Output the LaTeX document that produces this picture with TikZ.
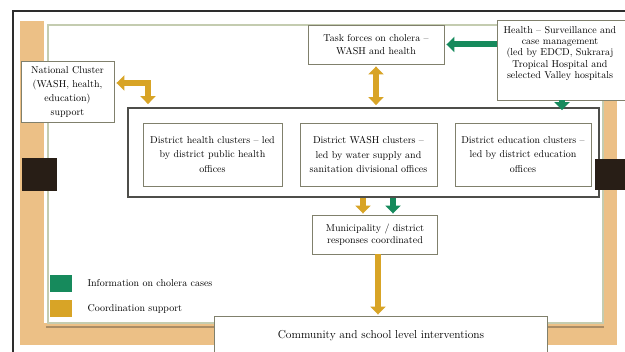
\documentclass[tikz,border=0pt]{standalone}
\usepackage{fontspec}
\usetikzlibrary{arrows.meta,calc}
\definecolor{boardtan}{RGB}{236,192,134}
\definecolor{infogreen}{RGB}{22,138,92}
\definecolor{coordgold}{RGB}{216,164,38}
\definecolor{boxedge}{RGB}{128,128,108}
\definecolor{paneledge}{RGB}{196,204,176}
\definecolor{contedge}{RGB}{78,78,74}
\definecolor{clipdark}{RGB}{40,30,22}
\definecolor{framedark}{RGB}{45,45,45}
\definecolor{shadowbrown}{RGB}{170,140,100}
\begin{document}
\begin{tikzpicture}[x=1pt,y=-1pt,
  box/.style={draw=boxedge, line width=0.9pt, fill=white, align=center, inner sep=0pt, font=\fontsize{10}{13}\selectfont},
  dbox/.style={box, minimum height=63pt, font=\fontsize{10}{14.5}\selectfont},
  legsq/.style={minimum width=22pt, minimum height=17pt, inner sep=0pt},
  legtxt/.style={anchor=west, font=\fontsize{10}{12}\selectfont},
  garrow/.style={draw=infogreen, line width=6pt, -{Triangle[width=15pt,length=8pt]}},
  oarrow/.style={draw=coordgold, line width=6pt, -{Triangle[width=15pt,length=8pt]}},
  oarrowtwo/.style={draw=coordgold, line width=6pt, line join=miter, {Triangle[width=15pt,length=8pt]}-{Triangle[width=15pt,length=8pt]}}
]
\useasboundingbox (0,0) rectangle (625,352);
\clip (0,0) rectangle (625,352);
% board background
\fill[white] (0,0) rectangle (625,352);
\fill[boardtan] (20,21) rectangle (44,345);
\fill[boardtan] (20,323) rectangle (617,345);
\fill[boardtan] (601,100) rectangle (617,345);
% frame lines
\draw[framedark, line width=1.2pt] (13,352) -- (13,11) -- (625,11);
% panel
\draw[paneledge, line width=1.6pt, fill=white] (48,25) rectangle (603,323);
\draw[shadowbrown, line width=2pt] (46,327) -- (604,327);

% nodes
\node[box, minimum width=93pt, minimum height=61pt, font=\fontsize{10}{14}\selectfont] (nat) at (67.5,91.5) {National Cluster\\(WASH, health,\\education)\\support};
\node[box, minimum width=136pt, minimum height=39pt] (task) at (376,44.5) {Task forces on cholera --\\WASH and health};
\node[box, minimum width=128pt, minimum height=80pt] (hea) at (561,60) {};
\node[align=center, inner sep=0pt, font=\fontsize{10}{11.3}\selectfont] (heatxt) at (560,53.5) {Health -- Surveillance and\\case management\\(led by EDCD, Sukraraj\\Tropical Hospital and\\selected Valley hospitals};
\node[draw=contedge, line width=1.8pt, minimum width=471pt, minimum height=89pt, inner sep=0pt] (cont) at (363.5,152.5) {};
\node[dbox, minimum width=139pt] (dh) at (212.5,154.5) {District health clusters -- led\\by district public health\\offices};
\node[dbox, minimum width=137pt] (dw) at (368.5,154.5) {District WASH clusters --\\led by water supply and\\sanitation divisional offices};
\node[dbox, minimum width=136pt] (de) at (523,154.5) {District education clusters --\\led by district education\\offices};
\node[box, minimum width=125pt, minimum height=39pt, font=\fontsize{10}{12}\selectfont] (mun) at (375,234.5) {Municipality / district\\responses coordinated};
\node[box, minimum width=333pt, minimum height=40pt, font=\fontsize{11.5}{13}\selectfont] (com) at (381,336) {Community and school level interventions};

% legend
\node[legsq, fill=infogreen] (lg) at (61,283.5) {};
\node[legsq, fill=coordgold] (lo) at (61,308.5) {};
\node[legtxt] (lgt) at (84,283) {Information on cholera cases};
\node[legtxt] (lot) at (84,309) {Coordination support};

% helper coordinates
\coordinate (elb) at (148,83);
\coordinate (gx) at (562,0);
\coordinate (ox) at (363,0);
\coordinate (gxb) at (393,0);
\coordinate (oxc) at (378,0);

% arrows
\draw[garrow] (hea.west |- task.east) -- ([xshift=2pt]task.east);
\draw[oarrowtwo] ([yshift=-2pt]task.south) -- ([yshift=2pt]task.south |- cont.north);
\coordinate (natp) at ([xshift=2pt]nat.east |- elb);
\coordinate (contp) at ([yshift=3pt]elb |- cont.north);
\draw[oarrowtwo] (natp) -| (contp);
\draw[garrow] (hea.south -| gx) -- ([yshift=-3pt]cont.north -| gx);
\draw[oarrow] (cont.south -| ox) -- ([yshift=1pt]mun.north -| ox);
\draw[garrow] (cont.south -| gxb) -- ([yshift=1pt]mun.north -| gxb);
\draw[oarrow] (mun.south -| oxc) -- ([yshift=1pt]com.north -| oxc);

% board clips
\fill[clipdark] (22,158) rectangle (57,191);
\fill[clipdark] (595,159) rectangle (625,190);
\end{tikzpicture}
\end{document}
